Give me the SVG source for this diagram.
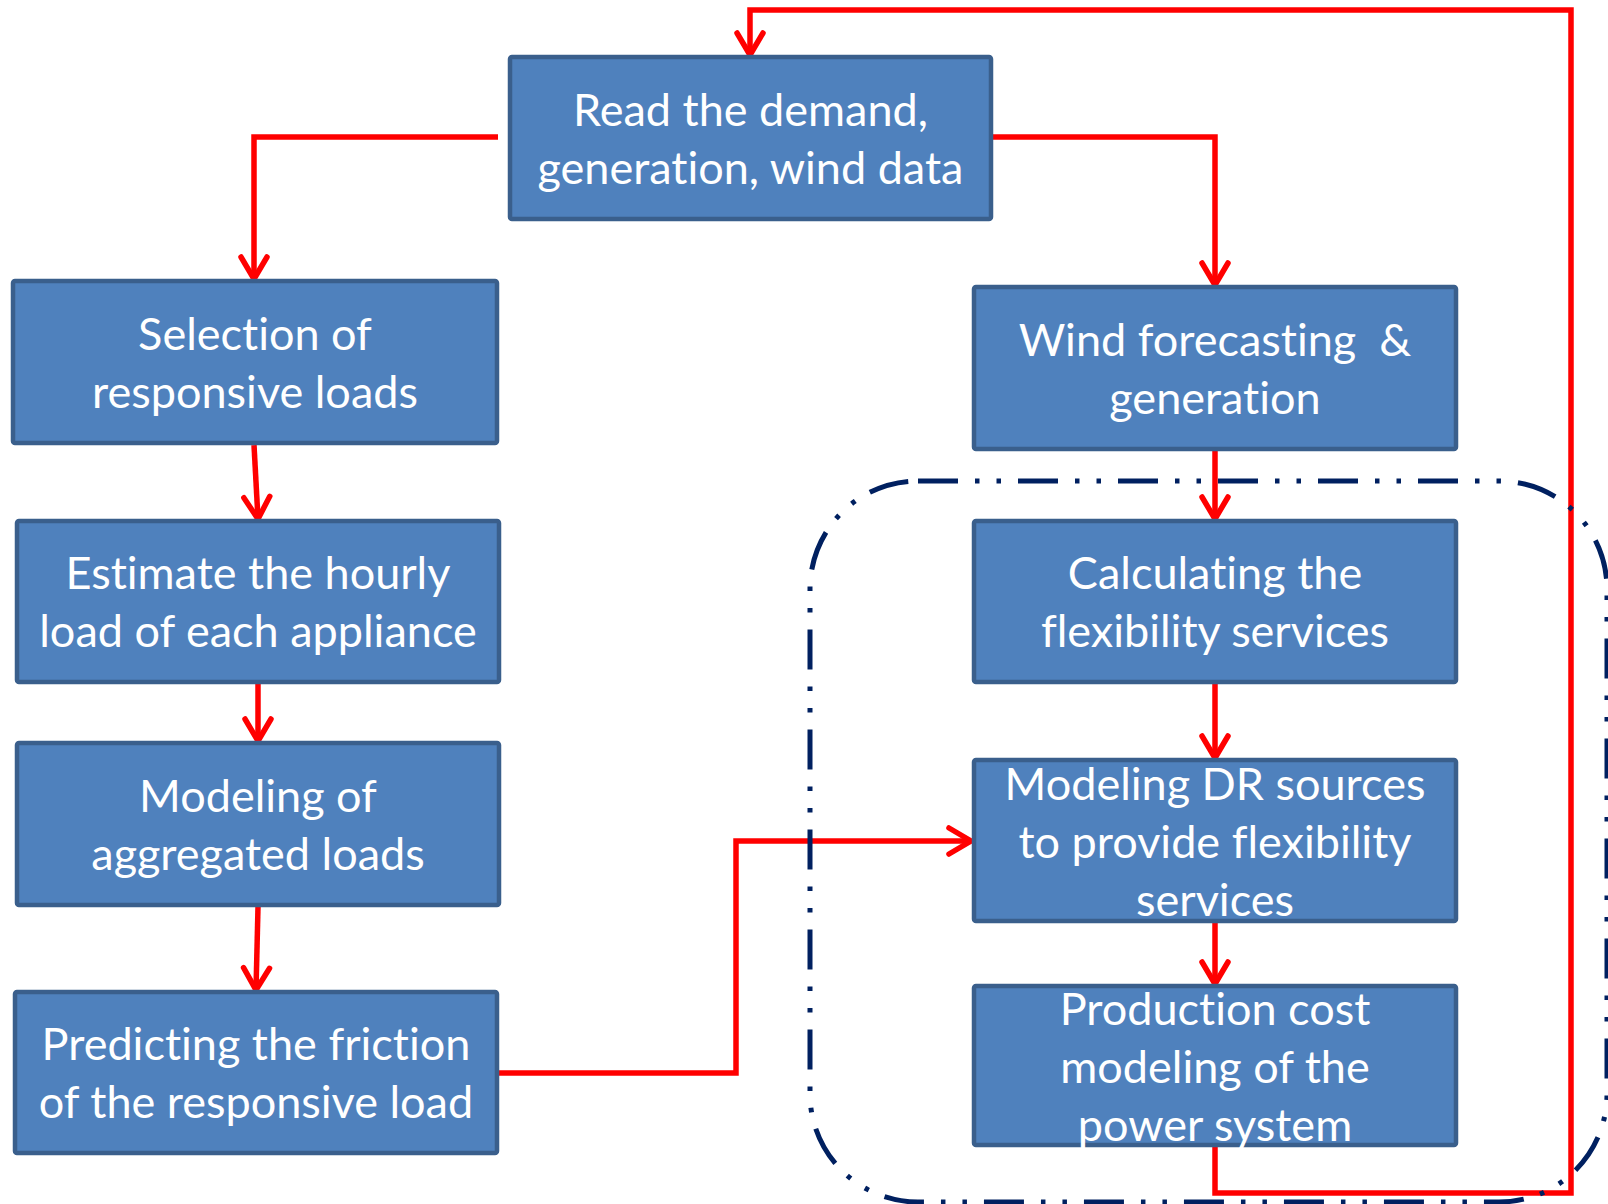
<svg xmlns="http://www.w3.org/2000/svg" width="1608" height="1204" viewBox="0 0 1608 1204">
<style>
.box{fill:#4F81BD;stroke:#3A5F8C;stroke-width:4.5}
.lbl{font-family:Lato,"Open Sans","Liberation Sans",sans-serif;font-size:45px;fill:#FFFFFF;text-anchor:middle;white-space:pre;font-variant-ligatures:none;font-feature-settings:"liga" 0,"clig" 0,"dlig" 0}
.con{fill:none;stroke:#FF0000;stroke-width:5.5;stroke-linejoin:miter}
.grp{fill:none;stroke:#002060;stroke-width:5;stroke-dasharray:40 17 4.5 17 4.5 17}
</style>
<defs>
<marker id="arr" markerUnits="userSpaceOnUse" markerWidth="40" markerHeight="40" viewBox="-30 -20 40 40" refX="0" refY="0" orient="auto">
<path d="M-22,-13 L0,0 L-22,13" fill="none" stroke="#FF0000" stroke-width="5.5" stroke-linecap="round" stroke-linejoin="miter"/>
</marker>
</defs>
<rect width="1608" height="1204" fill="#FFFFFF"/>
<g id="connectors">
<path class="con" d="M498,137 H254 V279" marker-end="url(#arr)"/>
<path class="con" d="M991,137 H1215 V285" marker-end="url(#arr)"/>
<path class="con" d="M254,445 L258,519" marker-end="url(#arr)"/>
<path class="con" d="M258,684 V741" marker-end="url(#arr)"/>
<path class="con" d="M258,907 L256,990" marker-end="url(#arr)"/>
<path class="con" d="M497,1073 H736 V841 H971" marker-end="url(#arr)"/>
<path class="con" d="M1215,451 V519" marker-end="url(#arr)"/>
<path class="con" d="M1215,684 V758" marker-end="url(#arr)"/>
<path class="con" d="M1215,923 V984" marker-end="url(#arr)"/>
<path class="con" d="M1215,1147 V1193 H1571 V10 H750 V55" marker-end="url(#arr)"/>
</g>
<g id="group-boundary">
<rect class="grp" x="810" y="481" width="797" height="721" rx="108" ry="108"/>
</g>
<g id="n-read">
<rect class="box" x="510" y="57" width="481" height="162" rx="2"/>
<text class="lbl" x="750.5" y="126">Read the demand,</text>
<text class="lbl" x="750.5" y="184">generation, wind data</text>
</g>
<g id="n-select">
<rect class="box" x="13" y="281" width="484" height="162" rx="2"/>
<text class="lbl" x="255" y="350">Selection of</text>
<text class="lbl" x="255" y="408">responsive loads</text>
</g>
<g id="n-estimate">
<rect class="box" x="17" y="521" width="482" height="161" rx="2"/>
<text class="lbl" x="258" y="589">Estimate the hourly</text>
<text class="lbl" x="258" y="647">load of each appliance</text>
</g>
<g id="n-aggregate">
<rect class="box" x="17" y="743" width="482" height="162" rx="2"/>
<text class="lbl" x="258" y="812">Modeling of</text>
<text class="lbl" x="258" y="870">aggregated loads</text>
</g>
<g id="n-predict">
<rect class="box" x="15" y="992" width="482" height="161" rx="2"/>
<text class="lbl" x="256" y="1060">Predicting the friction</text>
<text class="lbl" x="256" y="1118">of the responsive load</text>
</g>
<g id="n-wind">
<rect class="box" x="974" y="287" width="482" height="162" rx="2"/>
<text class="lbl" x="1215" y="356">Wind forecasting  &amp;</text>
<text class="lbl" x="1215" y="414">generation</text>
</g>
<g id="n-calc">
<rect class="box" x="974" y="521" width="482" height="161" rx="2"/>
<text class="lbl" x="1215" y="589">Calculating the</text>
<text class="lbl" x="1215" y="647">flexibility services</text>
</g>
<g id="n-dr">
<rect class="box" x="974" y="760" width="482" height="161" rx="2"/>
<text class="lbl" x="1215" y="800">Modeling DR sources</text>
<text class="lbl" x="1215" y="858">to provide flexibility</text>
<text class="lbl" x="1215" y="916">services</text>
</g>
<g id="n-prod">
<rect class="box" x="974" y="986" width="482" height="159" rx="2"/>
<text class="lbl" x="1215" y="1025">Production cost</text>
<text class="lbl" x="1215" y="1083">modeling of the</text>
<text class="lbl" x="1215" y="1141">power system</text>
</g>
</svg>
